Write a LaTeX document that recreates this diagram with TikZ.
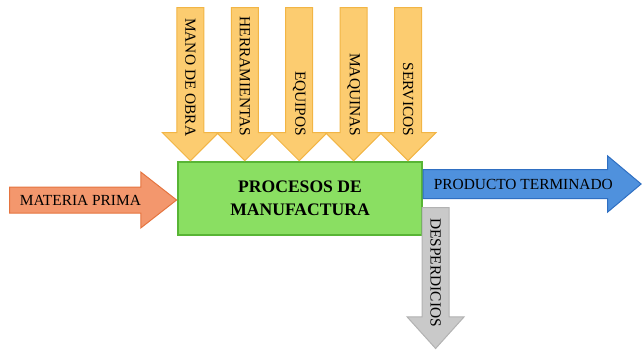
\documentclass[tikz,border=0pt]{standalone}
\usepackage{fontspec}
\setmainfont{Liberation Serif}
\usepackage{xcolor}
\usetikzlibrary{shapes.arrows,positioning,calc}

\definecolor{insfill}{HTML}{FFD47E}
\definecolor{insline}{HTML}{F2B545}
\definecolor{procfill}{HTML}{93E66A}
\definecolor{procline}{HTML}{58B535}
\definecolor{mpfill}{HTML}{F8A37C}
\definecolor{mpline}{HTML}{E5743F}
\definecolor{ptfill}{HTML}{5A9DE6}
\definecolor{ptline}{HTML}{2F6FC2}
\definecolor{desfill}{HTML}{CFCFCF}
\definecolor{desline}{HTML}{B2B2B2}

\begin{document}
\begin{tikzpicture}[
  x=1pt, y=1pt,
  lbl/.style={font=\fontsize{15.4}{17}\selectfont, inner sep=0pt},
  blk/.style={single arrow, draw, line width=1pt, minimum width=55pt},
  insumo/.style={blk, left color=insfill!75!insline, middle color=insfill, right color=insfill!75!insline, draw=insline, shape border rotate=270, inner xsep=13pt, inner ysep=0pt, minimum height=153pt, single arrow head extend=14.5pt, single arrow tip angle=90},
  entrada/.style={blk, top color=mpfill!75!mpline, middle color=mpfill, bottom color=mpfill!75!mpline, draw=mpline, inner xsep=0pt, inner ysep=12.5pt, minimum height=167pt, single arrow head extend=15pt, single arrow tip angle=76},
  salida/.style={blk, top color=ptfill!75!ptline, middle color=ptfill!85!white, bottom color=ptfill!75!ptline, draw=ptline, inner xsep=0pt, inner ysep=14pt, minimum height=218pt, single arrow head extend=13.5pt, single arrow tip angle=80},
  merma/.style={blk, left color=desfill!80!desline, middle color=desfill, right color=desfill!80!desline, draw=desline, shape border rotate=270, inner xsep=13pt, inner ysep=0pt, minimum height=141pt, single arrow head extend=15pt, single arrow tip angle=84},
  proc/.style={draw=procline, top color=procfill!85!procline, middle color=procfill, bottom color=procfill!85!procline, line width=1.2pt, align=center, minimum width=244pt, minimum height=73pt, font=\bfseries\fontsize{17.6}{24}\selectfont}
]
\useasboundingbox (0,0) rectangle (644,349);
\node[proc] (proc) at (300,150.5) {PROCESOS DE\\[-1pt]MANUFACTURA};
% insumos
\node[insumo, anchor=tip] (mo) at ($(proc.north west)+(13,0)$) {};
\node[insumo, anchor=tip] (he) at ($(proc.north west)+(67.4,0)$) {};
\node[insumo, anchor=tip] (eq) at ($(proc.north west)+(121.8,0)$) {};
\node[insumo, anchor=tip] (ma) at ($(proc.north west)+(176.2,0)$) {};
\node[insumo, anchor=tip] (se) at ($(proc.north west)+(230.6,0)$) {};
\node[lbl, rotate=-90, anchor=east] (mo-t) at ([yshift=25pt]mo.tip) {MANO DE OBRA};
\node[lbl, rotate=-90, anchor=east] (he-t) at ([yshift=25pt]he.tip) {HERRAMIENTAS};
\node[lbl, rotate=-90, anchor=east] (eq-t) at ([yshift=25pt]eq.tip) {EQUIPOS};
\node[lbl, rotate=-90, anchor=east] (ma-t) at ([yshift=25pt]ma.tip) {MAQUINAS};
\node[lbl, rotate=-90, anchor=east] (se-t) at ([yshift=25pt]se.tip) {SERVICOS};
% entrada y salidas
\node[entrada, anchor=tip] (mp) at ([yshift=-1.5pt]proc.west) {};
\node[lbl] (mp-t) at ([xshift=-97pt]mp.tip) {MATERIA PRIMA};
\node[salida, anchor=tail] (pt) at ([yshift=14.5pt]proc.east) {};
\node[lbl] (pt-t) at ([xshift=-118.5pt]pt.tip) {PRODUCTO TERMINADO};
\node[merma, anchor=tail] (de) at ($(proc.east)+(13,-8.5)$) {};
\node[lbl, rotate=-90, anchor=west] (de-t) at ([yshift=-11pt]de.tail) {DESPERDICIOS};
\end{tikzpicture}
\end{document}
